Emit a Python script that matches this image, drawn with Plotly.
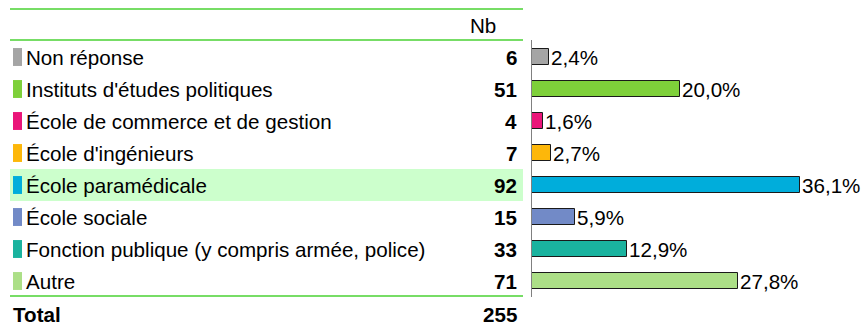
import plotly.graph_objects as go

# Survey answers: category, count, share of respondents (%), colour
categories = [
    "Non réponse",
    "Instituts d'études politiques",
    "École de commerce et de gestion",
    "École d'ingénieurs",
    "École paramédicale",
    "École sociale",
    "Fonction publique (y compris armée, police)",
    "Autre",
]
counts = [6, 51, 4, 7, 92, 15, 33, 71]
percents = [2.4, 20.0, 1.6, 2.7, 36.1, 5.9, 12.9, 27.8]
colors = ["#A5A5A5", "#7ED03A", "#EA1579", "#FDB70A", "#00ADDB",
          "#728AC7", "#1AB39F", "#ACDF87"]
total_label = "Total"
total_count = 255
header_label = "Nb"
highlight_row = 4

W, H = 866, 324
FONT = "Liberation Sans, Arial, sans-serif"
FS = 20.6
ROW0, STEP = 57, 32  # pixel centre of first row and row pitch


def px_x(p):
    return p / W


rows = list(range(len(categories)))

fig = go.Figure()
fig.add_trace(go.Bar(
    x=percents, y=rows, orientation="h",
    marker=dict(color=colors, line=dict(color="#1A1A1A", width=1)),
    width=0.53, hoverinfo="skip",
))

ann = []
shapes = []

# highlighted row background
shapes.append(dict(type="rect", xref="paper", yref="y", layer="below",
                   x0=px_x(10), x1=px_x(523), y0=highlight_row - 0.5,
                   y1=highlight_row + 0.5, fillcolor="#CCFFCC", line_width=0))

for i, (cat, n, pct, col) in enumerate(zip(categories, counts, percents, colors)):
    # colour swatch
    shapes.append(dict(type="rect", xref="paper", yref="y",
                       x0=px_x(13), x1=px_x(22), y0=i - 0.28, y1=i + 0.28,
                       fillcolor=col, line_width=0))
    ann.append(dict(text=cat, xref="paper", yref="y", x=px_x(24), y=i,
                    xanchor="left", yanchor="middle", showarrow=False,
                    font=dict(size=FS, color="#000")))
    ann.append(dict(text=f"<b>{n}</b>", xref="paper", yref="y", x=px_x(519), y=i,
                    xanchor="right", yanchor="middle", showarrow=False,
                    font=dict(size=FS, color="#000")))
    ann.append(dict(text=f"{pct:.1f}%".replace(".", ","), xref="x", yref="y",
                    x=pct, y=i, xanchor="left", yanchor="middle", xshift=0,
                    showarrow=False, font=dict(size=FS, color="#000")))

n_rows = len(categories)
ann.append(dict(text=f"<b>{total_label}</b>", xref="paper", yref="y", x=px_x(11),
                y=n_rows + 0.05, xanchor="left", yanchor="middle", showarrow=False,
                font=dict(size=FS, color="#000")))
ann.append(dict(text=f"<b>{total_count}</b>", xref="paper", yref="y", x=px_x(519),
                y=n_rows + 0.05, xanchor="right", yanchor="middle", showarrow=False,
                font=dict(size=FS, color="#000")))
ann.append(dict(text=header_label, xref="paper", yref="y", x=px_x(498),
                y=(25 - ROW0) / STEP, xanchor="right", yanchor="middle",
                showarrow=False, font=dict(size=FS, color="#000")))

# separator lines
for ypx in (9, 40, 296):
    yv = (ypx - ROW0) / STEP
    shapes.append(dict(type="line", xref="paper", yref="y", x0=px_x(10),
                       x1=px_x(523), y0=yv, y1=yv,
                       line=dict(color="#77DD66", width=2)))

# vertical axis line of the bar panel
shapes.append(dict(type="line", xref="x", yref="y", x0=0, x1=0,
                   y0=(40 - ROW0) / STEP, y1=(297 - ROW0) / STEP,
                   line=dict(color="#808080", width=2)))

fig.update_layout(
    width=W, height=H,
    margin=dict(l=0, r=0, t=0, b=0),
    paper_bgcolor="white", plot_bgcolor="rgba(0,0,0,0)",
    showlegend=False,
    font=dict(family=FONT, size=FS, color="#000"),
    xaxis=dict(domain=[px_x(531), 1], range=[0, (W - 531) / 7.45],
               visible=False, fixedrange=True),
    yaxis=dict(range=[(H - ROW0) / STEP, -ROW0 / STEP], visible=False,
               fixedrange=True),
    annotations=ann, shapes=shapes,
    bargap=0,
)

fig.write_html("out.html")
